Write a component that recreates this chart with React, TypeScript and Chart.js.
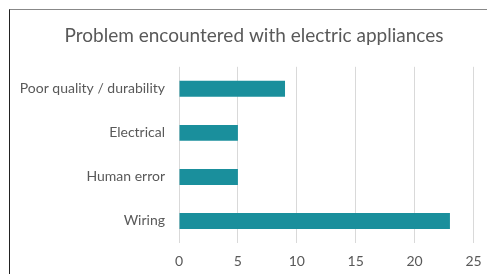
import React, { useEffect, useRef } from "react";
import { Chart, registerables } from "chart.js";

Chart.register(...registerables);

const TITLE = "Problem encountered with electric appliances";
const categories = ["Poor quality / durability", "Electrical", "Human error", "Wiring"];
const counts = [9, 5, 5, 23];
const xTicks = [0, 5, 10, 15, 20, 25];

const FONT = "Lato, 'Open Sans', sans-serif";
const TEXT = "#595959";
const BAR = "#1A8F9C";
const GRID = "#D9D9D9";
const TITLE_CENTER_X = 254;

const titleShift = {
  id: "titleShift",
  afterLayout(chart: any) {
    const tb = chart.titleBlock;
    if (!tb) return;
    const d = TITLE_CENTER_X - (tb.left + tb.right) / 2;
    tb.left += d;
    tb.right += d;
  },
};

export default function App() {
  const ref = useRef<HTMLCanvasElement | null>(null);

  useEffect(() => {
    if (!ref.current) return;
    const chart = new Chart(ref.current, {
      type: "bar",
      data: {
        labels: categories,
        datasets: [
          {
            data: counts,
            backgroundColor: BAR,
            borderWidth: 0,
            barPercentage: 0.55,
            categoryPercentage: 0.66,
          },
        ],
      },
      plugins: [titleShift],
      options: {
        indexAxis: "y",
        responsive: false,
        animation: false,
        devicePixelRatio: 1,
        layout: { padding: { left: 10, right: 13.5, top: 0, bottom: 0 } },
        plugins: {
          legend: { display: false },
          tooltip: { enabled: false },
          title: {
            display: true,
            text: TITLE,
            color: TEXT,
            font: { family: FONT, size: 19, weight: "normal" },
            padding: { top: 24, bottom: 20 },
          },
        },
        scales: {
          x: {
            min: 0,
            max: 25,
            afterBuildTicks: (s: any) => {
              s.ticks = xTicks.map((v) => ({ value: v }));
            },
            afterFit: (s: any) => {
              s.height = 31;
              s.paddingLeft = 0;
              s.paddingRight = 0;
            },
            grid: { color: GRID, lineWidth: 1, drawTicks: false },
            border: { display: false },
            ticks: {
              color: TEXT,
              font: { family: FONT, size: 14 },
              padding: 10,
              maxRotation: 0,
            },
          },
          y: {
            afterFit: (s: any) => {
              s.width = 169;
            },
            grid: { display: false, drawTicks: false },
            border: { display: false },
            ticks: {
              color: TEXT,
              font: { family: FONT, size: 14 },
              padding: 14,
            },
          },
        },
      },
    });
    return () => chart.destroy();
  }, []);

  return (
    <div
      style={{
        position: "fixed",
        left: 0,
        top: 0,
        width: 487,
        height: 274,
        overflow: "hidden",
        background: "#fff",
      }}
    >
      <canvas ref={ref} width={487} height={274} style={{ display: "block" }} />
      <div
        style={{
          position: "absolute",
          left: 9,
          top: 9,
          width: 700,
          height: 500,
          borderLeft: "1px solid #222",
          borderTop: "1px solid #888",
          pointerEvents: "none",
        }}
      />
    </div>
  );
}
